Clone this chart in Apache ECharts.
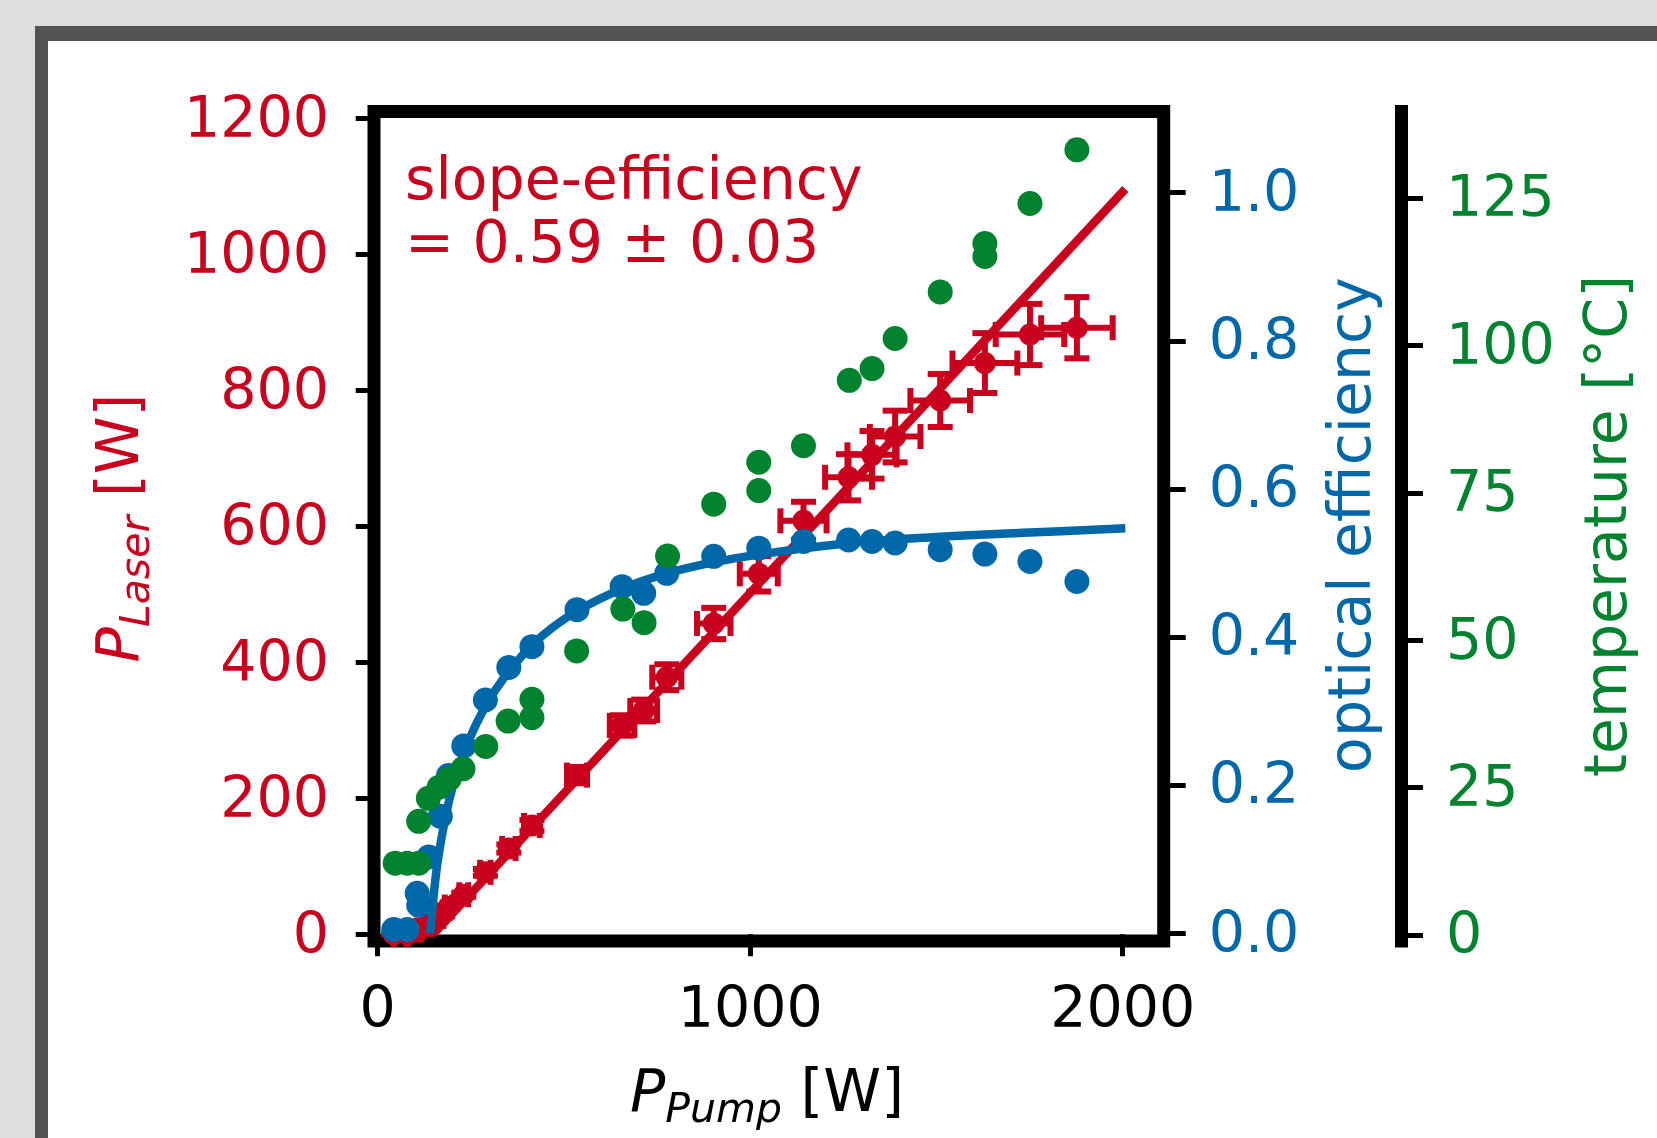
<!DOCTYPE html>
<html><head><meta charset="utf-8">
<script src="https://cdn.jsdelivr.net/npm/echarts@6/dist/echarts.min.js"></script>
<style>html,body{margin:0;padding:0;background:#dedede;}#c{width:1657px;height:1138px;}</style>
</head><body><div id="c"></div>
<script>
// ---- data ----
const xTicks = [0, 1000, 2000];
const laserTicks = [0, 200, 400, 600, 800, 1000, 1200];
const effTicks = [0, 0.2, 0.4, 0.6, 0.8, 1.0];
const tempTicks = [0, 25, 50, 75, 100, 125];

const laserPump    = [43, 79, 110, 137, 168, 190, 231, 289, 352, 414, 535, 656, 714, 776, 902, 1023, 1143, 1264, 1327, 1389, 1510, 1630, 1751, 1877];
const laserPower   = [0, 0, 6, 14, 26, 40, 58, 91, 126, 160, 234, 307, 329, 378, 457, 530, 608, 672, 705, 732, 785, 840, 882, 892];
const laserPumpErr = [2, 4, 6, 7, 8, 10, 12, 14, 18, 21, 27, 33, 36, 39, 45, 51, 62, 63, 66, 68, 80, 87, 92, 96];
const laserPowerErr= [0, 0, 1, 1, 2, 2, 3, 5, 6, 8, 12, 15, 16, 19, 23, 26, 28, 34, 35, 38, 39, 44, 45, 45];

const fitPump  = [149, 2007];
const fitPower = [0, 1096];

const effPump  = [43, 79, 106, 110, 137, 168, 190, 231, 289, 352, 414, 535, 656, 714, 776, 902, 1023, 1143, 1264, 1327, 1389, 1510, 1630, 1751, 1877];
const effValue = [0.005, 0.005, 0.054, 0.038, 0.103, 0.158, 0.213, 0.253, 0.315, 0.359, 0.387, 0.437, 0.468, 0.459, 0.486, 0.509, 0.520, 0.529, 0.531, 0.529, 0.527, 0.518, 0.512, 0.502, 0.475];

const effFitPump  = [141, 159, 182, 204, 231, 267, 311, 374, 445, 535, 660, 776, 902, 1018, 1250, 1500, 1750, 2007];
const effFitValue = [0, 0.09, 0.157, 0.203, 0.243, 0.285, 0.325, 0.367, 0.403, 0.435, 0.466, 0.486, 0.501, 0.511, 0.526, 0.535, 0.541, 0.547];

const tempPump  = [47, 79, 110, 110, 136, 165, 192, 229, 290, 350, 414, 414, 534, 658, 715, 778, 902, 1023, 1023, 1143, 1266, 1327, 1389, 1510, 1630, 1630, 1751, 1877];
const tempValue = [12.2, 12.2, 12.2, 19.3, 23.2, 25.1, 26.5, 28.2, 32.0, 36.3, 36.9, 40.0, 48.2, 55.3, 53.0, 64.3, 73.1, 75.4, 80.2, 83.0, 94.1, 96.1, 101.2, 109.1, 115.1, 117.3, 124.1, 133.2];

// ---- styling ----
const RED = '#c8001e', BLUE = '#0067a8', GREEN = '#00822f';
const FONT = 'DejaVu Sans';
const FS = 57;
const TFS = 58.5;

const zip = (a, b) => a.map((v, i) => [v, b[i]]);
const errData = laserPump.map((v, i) => [v, laserPower[i], laserPumpErr[i], laserPowerErr[i]]);

const tickStyle = {show: true, inside: false, length: 22, lineStyle: {color: '#000', width: 5}};

const mathRich = (color) => ({
  i: {fontFamily: FONT, fontStyle: 'italic', fontSize: TFS, fill: color, lineHeight: 72, verticalAlign: 'middle'},
  s: {fontFamily: FONT, fontStyle: 'italic', fontSize: 41, fill: color, lineHeight: 43, verticalAlign: 'bottom'},
  n: {fontFamily: FONT, fontSize: TFS, fill: color, lineHeight: 72, verticalAlign: 'middle'}
});
const tfont = TFS + 'px "DejaVu Sans"';
// y tick labels: box top at the tick, tiny line height puts the digits' centre on the tick
const yLabel = (color, fmt) => ({color: color, fontFamily: FONT, fontSize: FS, margin: 45,
  verticalAlign: 'top', lineHeight: 7, formatter: fmt});

const chart = echarts.init(document.getElementById('c'), null, {renderer: 'canvas'});
chart.setOption({
  animation: false,
  backgroundColor: '#dedede',
  graphic: [
    {type: 'rect', z: -10, silent: true, shape: {x: 35, y: 26, width: 1700, height: 1200}, style: {fill: '#535353'}},
    {type: 'rect', z: -9, silent: true, shape: {x: 48, y: 41, width: 1700, height: 1200}, style: {fill: '#ffffff'}},
    {type: 'text', z: 50, x: 405, y: 184, style: {text: 'slope-efficiency', font: tfont, fill: RED, align: 'left', verticalAlign: 'middle'}},
    {type: 'text', z: 50, x: 405, y: 247, style: {text: '= 0.59 \u00b1 0.03', font: tfont, fill: RED, align: 'left', verticalAlign: 'middle'}},
    {type: 'text', z: 50, x: 767, y: 1096, style: {text: '{i|P}{s|Pump}{n| [W]}', rich: mathRich('#000'), align: 'center', verticalAlign: 'middle'}},
    {type: 'text', z: 50, x: 123, y: 528, rotation: Math.PI / 2, style: {text: '{i|P}{s|Laser}{n| [W]}', rich: mathRich(RED), align: 'center', verticalAlign: 'middle'}},
    {type: 'text', z: 50, x: 1355, y: 525, rotation: Math.PI / 2, style: {text: 'optical efficiency', font: tfont, fill: BLUE, align: 'center', verticalAlign: 'middle'}},
    {type: 'text', z: 50, x: 1611, y: 526, rotation: Math.PI / 2, style: {text: 'temperature [\u00b0C]', font: tfont, fill: GREEN, align: 'center', verticalAlign: 'middle'}}
  ],
  grid: {left: 374, top: 111.5, width: 789.7, height: 829.5, show: true, borderColor: '#000', borderWidth: 13, backgroundColor: 'transparent', containLabel: false},
  xAxis: [{
    type: 'value', min: -10, max: 2110,
    axisLine: {show: false},
    splitLine: {show: false},
    axisTick: Object.assign({customValues: xTicks}, tickStyle),
    axisLabel: {customValues: xTicks, color: '#000', fontFamily: FONT, fontSize: FS, margin: 43, formatter: v => String(v)}
  }],
  yAxis: [{
    type: 'value', position: 'left', min: -10, max: 1210,
    axisLine: {show: false}, splitLine: {show: false},
    axisTick: Object.assign({customValues: laserTicks}, tickStyle),
    axisLabel: Object.assign({customValues: laserTicks}, yLabel(RED, v => String(v)))
  }, {
    type: 'value', position: 'right', min: -0.0104, max: 1.1096,
    axisLine: {show: false}, splitLine: {show: false},
    axisTick: Object.assign({customValues: effTicks}, tickStyle),
    axisLabel: Object.assign({customValues: effTicks}, yLabel(BLUE, v => v.toFixed(1)))
  }, {
    type: 'value', position: 'right', offset: 237.3, min: -1, max: 139.7,
    axisLine: {show: true, lineStyle: {color: '#000', width: 13, cap: 'square'}}, splitLine: {show: false},
    axisTick: Object.assign({customValues: tempTicks}, tickStyle),
    axisLabel: Object.assign({customValues: tempTicks}, yLabel(GREEN, v => String(v)))
  }],
  series: [
    {type: 'line', xAxisIndex: 0, yAxisIndex: 0, data: zip(fitPump, fitPower), showSymbol: false, symbol: 'none',
     lineStyle: {color: RED, width: 8.5}, z: 2},
    {type: 'custom', xAxisIndex: 0, yAxisIndex: 0, data: errData, z: 3, encode: {x: 0, y: 1},
     renderItem: function (params, api) {
       const x = api.value(0), y = api.value(1), xe = api.value(2), ye = api.value(3);
       const l = api.coord([x - xe, y]), r = api.coord([x + xe, y]);
       const t = api.coord([x, y + ye]), b = api.coord([x, y - ye]);
       const cap = 12.5;
       const st = {stroke: RED, lineWidth: 6};
       return {type: 'group', children: [
         {type: 'line', shape: {x1: l[0], y1: l[1], x2: r[0], y2: r[1]}, style: st},
         {type: 'line', shape: {x1: t[0], y1: t[1], x2: b[0], y2: b[1]}, style: st},
         {type: 'line', shape: {x1: l[0], y1: l[1] - cap, x2: l[0], y2: l[1] + cap}, style: st},
         {type: 'line', shape: {x1: r[0], y1: r[1] - cap, x2: r[0], y2: r[1] + cap}, style: st},
         {type: 'line', shape: {x1: t[0] - cap, y1: t[1], x2: t[0] + cap, y2: t[1]}, style: st},
         {type: 'line', shape: {x1: b[0] - cap, y1: b[1], x2: b[0] + cap, y2: b[1]}, style: st}
       ]};
     }},
    {type: 'scatter', xAxisIndex: 0, yAxisIndex: 0, data: zip(laserPump, laserPower), symbol: 'circle', symbolSize: 22,
     itemStyle: {color: RED, opacity: 1}, z: 4},
    {type: 'line', xAxisIndex: 0, yAxisIndex: 1, data: zip(effFitPump, effFitValue), showSymbol: false, symbol: 'none',
     smooth: 0.4, lineStyle: {color: BLUE, width: 8.5}, z: 5},
    {type: 'scatter', xAxisIndex: 0, yAxisIndex: 1, data: zip(effPump, effValue), symbol: 'circle', symbolSize: 25,
     itemStyle: {color: BLUE, opacity: 1}, z: 6},
    {type: 'scatter', xAxisIndex: 0, yAxisIndex: 2, data: zip(tempPump, tempValue), symbol: 'circle', symbolSize: 25,
     itemStyle: {color: GREEN, opacity: 1}, z: 7}
  ]
});
</script>
</body></html>
